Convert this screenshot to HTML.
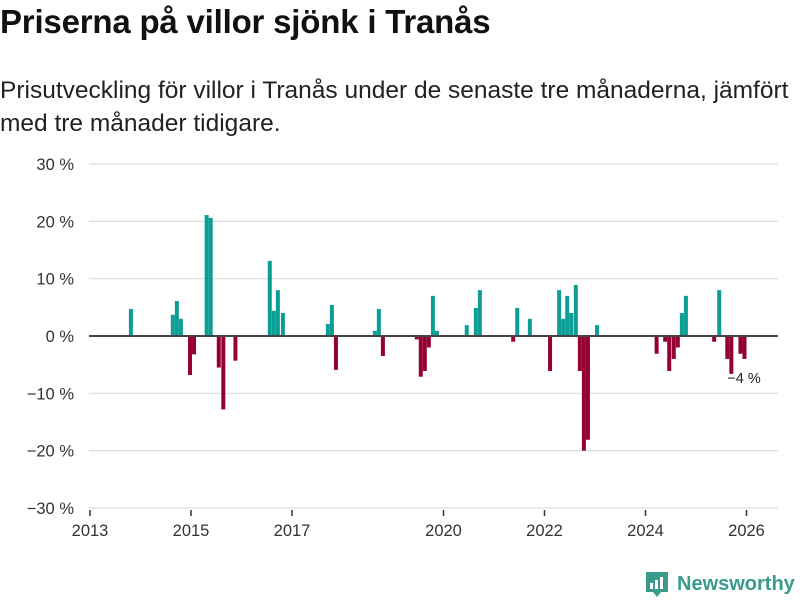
<!DOCTYPE html>
<html><head><meta charset="utf-8"><style>
body{margin:0;background:#fff;width:800px;height:600px;overflow:hidden;font-family:"Liberation Sans","DejaVu Sans",sans-serif;}
#title{position:absolute;left:0;top:3px;font-size:33px;font-weight:bold;color:#111;margin:0;letter-spacing:-0.2px}
#sub{position:absolute;left:0;top:74px;font-size:24.5px;line-height:33px;color:#222;width:798px}
svg{position:absolute;left:0;top:0}
</style></head><body>
<h1 id="title">Priserna på villor sjönk i Tranås</h1>
<div id="sub">Prisutveckling för villor i Tranås under de senaste tre månaderna, jämfört med tre månader tidigare.</div>
<svg id="chart" width="800" height="600"></svg>
<script>
const dates=[2013.81,2014.64,2014.72,2014.80,2014.98,2015.06,2015.31,2015.39,2015.55,2015.64,2015.88,2016.56,2016.64,2016.72,2016.82,2017.71,2017.79,2017.87,2018.64,2018.72,2018.80,2019.47,2019.55,2019.63,2019.71,2019.79,2019.87,2020.46,2020.64,2020.72,2021.38,2021.46,2021.71,2022.11,2022.29,2022.37,2022.45,2022.53,2022.62,2022.70,2022.78,2022.86,2023.04,2024.22,2024.39,2024.47,2024.56,2024.64,2024.72,2024.80,2025.36,2025.46,2025.62,2025.70,2025.88,2025.96];
const values=[4.7,3.7,6.1,3.0,-6.8,-3.2,21.1,20.6,-5.5,-12.8,-4.3,13.1,4.4,8.0,4.0,2.1,5.4,-5.9,0.9,4.7,-3.5,-0.6,-7.1,-6.1,-2.0,7.0,0.9,1.9,4.9,8.0,-1.0,4.9,3.0,-6.1,8.0,3.0,7.0,4.0,8.9,-6.1,-20.0,-18.1,1.9,-3.1,-1.0,-6.1,-4.0,-2.0,4.0,7.0,-1.0,8.0,-4.0,-6.6,-3.1,-4.0];
const yTicks=[30,20,10,0,-10,-20,-30];
const xTicks=[2013,2015,2017,2020,2022,2024,2026];
const NS="http://www.w3.org/2000/svg";
const svg=document.getElementById('chart');
const x=t=>90+(t-2013)*50.5;
const y=v=>336-v*5.733;
function mk(tag,attrs,txt){const e=document.createElementNS(NS,tag);for(const k in attrs)e.setAttribute(k,attrs[k]);if(txt!==undefined)e.textContent=txt;svg.appendChild(e);return e;}
yTicks.forEach(v=>{
  if(v!==0){const g=mk('line',{x1:89,x2:778,y1:y(v),y2:y(v),stroke:'#ddd','stroke-width':1.2});
  
  }
  const label=(v<0?'\u2212'+(-v):String(v))+' %';
  const t=mk('text',{x:74,y:y(v)+6,'text-anchor':'end','font-size':16.5,fill:'#333'},label);
  
  
});
xTicks.forEach(yr=>{
  const l=mk('line',{x1:x(yr),x2:x(yr),y1:510,y2:516,stroke:'#333','stroke-width':1.5});
  
  
  const t=mk('text',{x:x(yr),y:536,'text-anchor':'middle','font-size':16.5,fill:'#333'},yr);
  
  
});
dates.forEach((d,i)=>{
  const v=values[i];
  const r=mk('rect',{x:x(d)-2,y:Math.min(y(v),y(0)),width:4,height:Math.abs(y(v)-y(0)),fill:v>=0?'#0a9e94':'#940034'});
  
  
});
const z=mk('line',{x1:89,x2:778,y1:y(0),y2:y(0),stroke:'#444','stroke-width':2});


const lbl=mk('text',{x:744,y:383,'text-anchor':'middle','font-size':14.5,fill:'#222'},'\u22124 %');


</script>
<svg width="800" height="600" style="pointer-events:none">
<path d="M646 572 h22 v20 h-7 l-4 5 l-4 -5 h-7 z" fill="#3a9a8c"/>
<rect x="650" y="583" width="3" height="6" fill="#fff"/><rect x="655" y="580" width="3" height="9" fill="#fff"/><rect x="660" y="577" width="3" height="12" fill="#fff"/>
<text x="677" y="590" font-size="20" font-weight="bold" fill="#3a9a8c" font-family="Liberation Sans, sans-serif">Newsworthy</text>
</svg>
</body></html>
